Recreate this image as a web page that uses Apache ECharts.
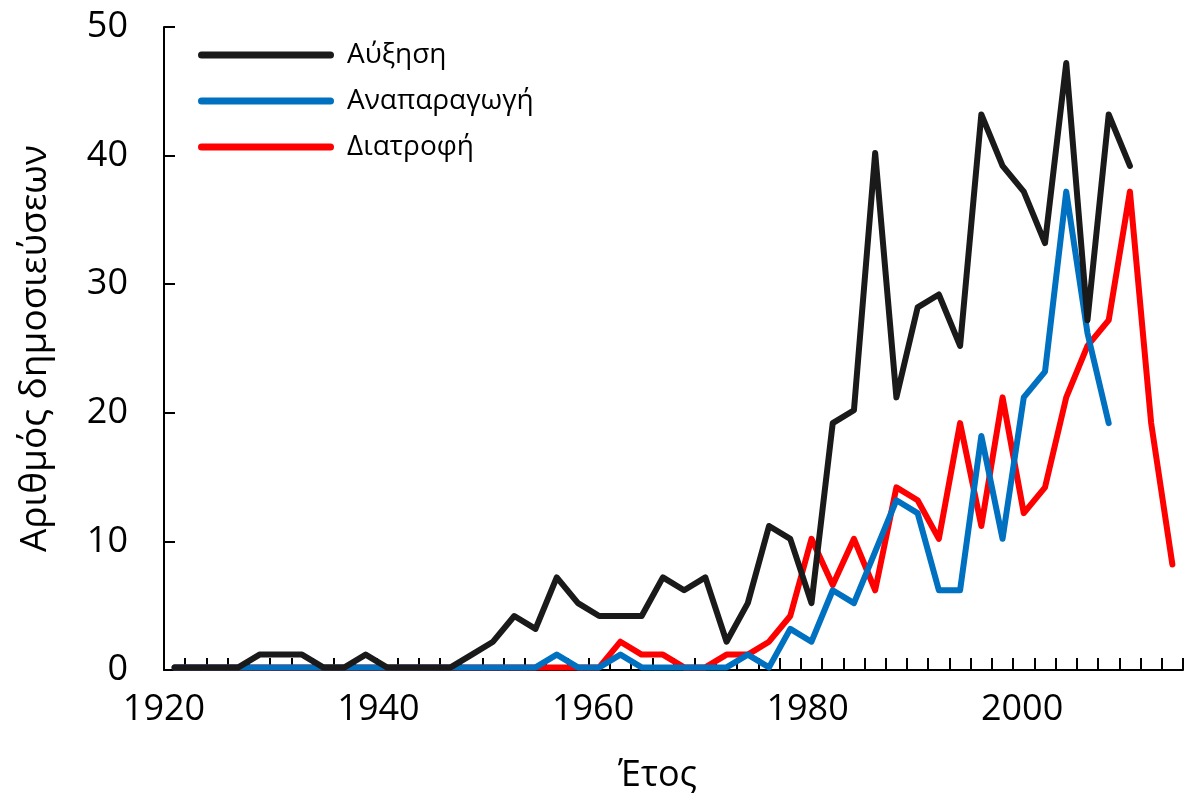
<!DOCTYPE html>
<html>
<head>
<meta charset="utf-8">
<script src="https://cdn.jsdelivr.net/npm/echarts@6/dist/echarts.min.js"></script>
<style>
html, body { margin: 0; padding: 0; background: #ffffff; overflow: hidden; }
#chart { width: 1184px; height: 793px; }
</style>
</head>
<body>
<div id="chart"></div>
<script>
// Categories (years, every two years)
const years = ['1920','1922','1924','1926','1928','1930','1932','1934','1936','1938',
               '1940','1942','1944','1946','1948','1950','1952','1954','1956','1958',
               '1960','1962','1964','1966','1968','1970','1972','1974','1976','1978',
               '1980','1982','1984','1986','1988','1990','1992','1994','1996','1998',
               '2000','2002','2004','2006','2008','2010','2012','2014'];

// Series values
const growth = [0.2,0.2,0.2,0.2,1.2,1.2,1.2,0.2,0.2,1.2,
                0.2,0.2,0.2,0.2,1.2,2.2,4.2,3.2,7.2,5.2,
                4.2,4.2,4.2,7.2,6.2,7.2,2.2,5.2,11.2,10.2,
                5.2,19.2,20.2,40.2,21.2,28.2,29.2,25.2,43.2,39.2,
                37.2,33.2,47.2,27.2,43.2,39.2,null,null];

const reproduction = [0.2,0.2,0.2,0.2,0.2,0.2,0.2,0.2,0.2,0.2,
                      0.2,0.2,0.2,0.2,0.2,0.2,0.2,0.2,1.2,0.2,
                      0.2,1.2,0.2,0.2,0.2,0.2,0.2,1.2,0.2,3.2,
                      2.2,6.2,5.2,9.2,13.2,12.2,6.2,6.2,18.2,10.2,
                      21.2,23.2,37.2,26.2,19.2,null,null,null];

const nutrition = [0.2,0.2,0.2,0.2,0.2,0.2,0.2,0.2,0.2,0.2,
                   0.2,0.2,0.2,0.2,0.2,0.2,0.2,0.2,0.2,0.2,
                   0.2,2.2,1.2,1.2,0.2,0.2,1.2,1.2,2.2,4.2,
                   10.2,6.6,10.2,6.2,14.2,13.2,10.2,19.2,11.2,21.2,
                   12.2,14.2,21.2,25.2,27.2,37.2,19.2,8.2];

const seriesNames = ['Αύξηση', 'Αναπαραγωγή', 'Διατροφή'];

// Tick labels
const xTickLabels = [1920, 1940, 1960, 1980, 2000];
const yTickLabels = [0, 10, 20, 30, 40, 50];

const FONT = "'Open Sans', 'Noto Sans', sans-serif";
const COLORS = { black: '#1a1a1a', blue: '#0070C0', red: '#FF0000' };

const chart = echarts.init(document.getElementById('chart'), null, { renderer: 'canvas' });

function lineSeries(name, data, color) {
  return {
    name: name,
    type: 'line',
    xAxisIndex: 0,
    yAxisIndex: 0,
    data: data,
    color: color,
    symbol: 'none',
    showSymbol: false,
    connectNulls: false,
    clip: false,
    itemStyle: { color: color },
    lineStyle: { color: color, width: 6, cap: 'round', join: 'round' },
    emphasis: { disabled: true },
    animation: false
  };
}

const option = {
  animation: false,
  backgroundColor: '#ffffff',
  textStyle: { fontFamily: FONT, color: '#000' },
  grid: { left: 164, right: 1, top: 27, bottom: 123, containLabel: false, outerBoundsMode: 'none' },
  legend: {
    data: seriesNames,
    orient: 'vertical',
    left: 198,
    top: 39,
    padding: 0,
    itemWidth: 136,
    itemHeight: 7,
    itemGap: 14,
    icon: 'path://M3.5,0H132.5A3.5,3.5,0,0,1,132.5,7H3.5A3.5,3.5,0,0,1,3.5,0Z',
    textStyle: { fontFamily: FONT, fontSize: 28, color: '#000', lineHeight: 32, padding: [0, 0, 0, 8] },
    selectedMode: false
  },
  xAxis: [
    {
      type: 'category',
      data: years,
      boundaryGap: true,
      position: 'bottom',
      axisLine: { show: true, lineStyle: { color: '#000', width: 2 } },
      axisTick: { show: true, inside: true, length: 12, interval: 0, lineStyle: { color: '#000', width: 2 } },
      axisLabel: { show: false },
      splitLine: { show: false }
    },
    {
      type: 'value',
      position: 'bottom',
      min: xTickLabels[0],
      max: 2015,
      interval: xTickLabels[1] - xTickLabels[0],
      axisLine: { show: false },
      axisTick: { show: false },
      splitLine: { show: false },
      axisLabel: {
        show: true, fontSize: 36, color: '#000', fontFamily: FONT, margin: 22,
        showMaxLabel: false,
        formatter: v => (xTickLabels.indexOf(v) >= 0 ? String(v) : '')
      },
      name: 'Έτος',
      nameLocation: 'middle',
      nameGap: 88,
      nameTextStyle: { fontSize: 36, color: '#000', fontFamily: FONT, padding: [0, 32, 0, 0] }
    }
  ],
  yAxis: {
    type: 'value',
    min: yTickLabels[0],
    max: yTickLabels[yTickLabels.length - 1],
    interval: yTickLabels[1] - yTickLabels[0],
    axisLine: { show: true, lineStyle: { color: '#000', width: 2 } },
    axisTick: { show: true, inside: true, length: 11, lineStyle: { color: '#000', width: 2 } },
    axisLabel: { fontSize: 36, color: '#000', fontFamily: FONT, margin: 36 },
    splitLine: { show: false },
    name: 'Αριθμός δημοσιεύσεων',
    nameLocation: 'middle',
    nameRotate: 90,
    nameGap: 110,
    nameTextStyle: { fontSize: 37, color: '#000', fontFamily: FONT }
  },
  series: [
    lineSeries(seriesNames[2], nutrition, COLORS.red),
    lineSeries(seriesNames[1], reproduction, COLORS.blue),
    lineSeries(seriesNames[0], growth, COLORS.black)
  ]
};

chart.setOption(option);
</script>
</body>
</html>
